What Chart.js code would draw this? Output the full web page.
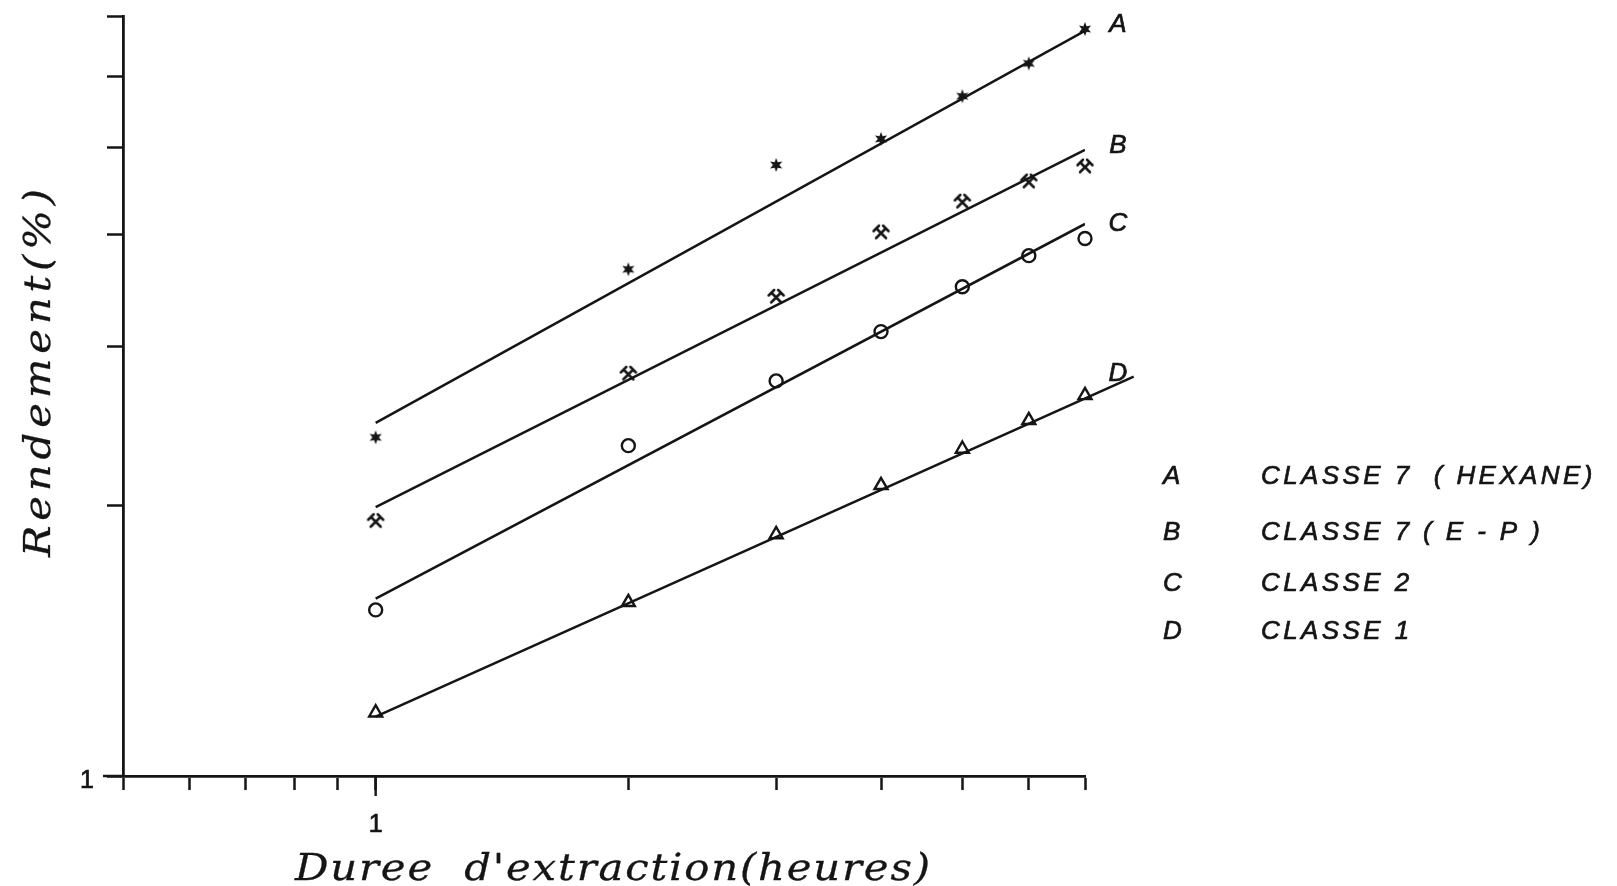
<!DOCTYPE html>
<html>
<head>
<meta charset="utf-8">
<script src="https://cdn.jsdelivr.net/npm/chart.js@4.4.1/dist/chart.umd.min.js"></script>
<style>
html,body{margin:0;padding:0;background:#fff;overflow:hidden}
canvas{display:block}
</style>
</head>
<body>
<canvas id="c" width="1617" height="886"></canvas>
<script>
// ---------- data ----------
const hours = [1, 2, 3, 4, 5, 6, 7];
const rendementA = [2.38, 3.66, 4.78, 5.11, 5.70, 6.20, 6.77];   // CLASSE 7 (HEXANE)
const rendementB = [1.92, 2.80, 3.41, 4.02, 4.35, 4.58, 4.76];   // CLASSE 7 (E-P)
const rendementC = [1.53, 2.33, 2.75, 3.12, 3.50, 3.79, 3.96];   // CLASSE 2
const rendementD = [1.176, 1.56, 1.856, 2.105, 2.31, 2.486, 2.65]; // CLASSE 1

// fitted straight lines (log-log), end points
const fitHoursA = [1, 7], fitA = [2.47, 6.74];
const fitHoursB = [1, 7], fitB = [1.99, 4.97];
const fitHoursC = [1, 7], fitC = [1.575, 4.11];
const fitHoursD = [1, 8], fitD = [1.164, 2.78];

const xTickValues = [0.5, 0.6, 0.7, 0.8, 0.9, 1, 2, 3, 4, 5, 6, 7];
const yTickValues = [1, 2, 3, 4, 5, 6, 7];
const xTickLabel = '1';
const yTickLabel = '1';
const lineLabels = ['A', 'B', 'C', 'D'];
const legendKeys = ['A', 'B', 'C', 'D'];
const legendNames = ['CLASSE 7  ( HEXANE)', 'CLASSE 7 ( E - P )', 'CLASSE 2', 'CLASSE 1'];
const xTitle = "Duree  d'extraction(heures)";
const yTitle = "Rendement(%)";

// ---------- drawing ----------
const INK = '#151515';
const pts = (xs, ys) => xs.map((x, i) => ({x: x, y: ys[i]}));

function marker(kind) {
  const s = 22, c = document.createElement('canvas');
  c.width = s; c.height = s;
  const g = c.getContext('2d');
  g.translate(s / 2, s / 2);
  g.strokeStyle = INK; g.fillStyle = INK; g.lineWidth = 2.5; g.lineCap = 'round';
  if (kind === 'star') {
    g.beginPath();
    for (let i = 0; i < 12; i++) {
      const r = i % 2 ? 3.2 : 7;
      const a = -Math.PI / 2 + i * Math.PI / 6;
      g.lineTo(r * Math.cos(a), r * Math.sin(a));
    }
    g.closePath(); g.fill();
  } else if (kind === 'hammer') {
    g.beginPath();
    g.moveTo(-4, -3.5); g.lineTo(5, 5.5);
    g.moveTo(4, -3.5); g.lineTo(-5, 5.5);
    g.stroke();
    g.beginPath();
    g.moveTo(-7.5, -1.5); g.lineTo(-2, -7);
    g.moveTo(7.5, -1.5); g.lineTo(2, -7);
    g.stroke();
  }
  return c;
}

function drawSpaced(ctx, text, x0, y0, spacing, bold) {
  let x = x0;
  for (const ch of text) {
    ctx.fillText(ch, x, y0);
    if (bold) ctx.strokeText(ch, x, y0);
    x += ctx.measureText(ch).width + spacing;
  }
}
// draws text char by char, glyphs stretched horizontally by sx, filling `width`
function drawFit(ctx, text, x0, y0, width, sx) {
  const chars = [...text];
  const w = chars.map(ch => ctx.measureText(ch).width * sx);
  const nat = w.reduce((s, v) => s + v, 0);
  const gap = (width - nat) / (chars.length - 1);
  let x = x0;
  chars.forEach((ch, i) => {
    ctx.save();
    ctx.translate(x, y0);
    ctx.scale(sx, 1);
    ctx.fillText(ch, 0, 0);
    ctx.strokeText(ch, 0, 0);
    ctx.restore();
    x += w[i] + gap;
  });
}

const textPlugin = {
  id: 'texts',
  afterDraw(chart) {
    const {ctx, chartArea: a, scales: {x, y}} = chart;
    ctx.save();
    ctx.fillStyle = INK; ctx.strokeStyle = INK;
    // longer ticks at value 1
    ctx.lineWidth = 2.4;
    ctx.beginPath();
    const x1 = x.getPixelForValue(1), y1 = y.getPixelForValue(1);
    ctx.moveTo(x1, a.bottom); ctx.lineTo(x1, a.bottom + 20);
    ctx.moveTo(a.left, y1); ctx.lineTo(a.left - 20, y1);
    ctx.stroke();
    // tick labels
    ctx.font = '25px "Liberation Sans"';
    ctx.textAlign = 'center'; ctx.textBaseline = 'alphabetic';
    ctx.lineWidth = 0.7;
    ctx.fillText(xTickLabel, x1, a.bottom + 56);
    ctx.strokeText(xTickLabel, x1, a.bottom + 56);
    ctx.fillText(yTickLabel, a.left - 36, y1 + 12);
    ctx.strokeText(yTickLabel, a.left - 36, y1 + 12);
    // line labels
    ctx.font = 'italic 26px "Liberation Sans"';
    const dy = [-8, -6, -2, -5];
    for (let i = 0; i < 4; i++) {
      const p = chart.getDatasetMeta(i).data[1];
      ctx.fillText(lineLabels[i], a.right + 33, p.y + dy[i] + 9);
      ctx.strokeText(lineLabels[i], a.right + 33, p.y + dy[i] + 9);
    }
    // legend
    ctx.textAlign = 'left';
    const rows = [484, 540, 591, 639];
    for (let i = 0; i < 4; i++) {
      ctx.fillText(legendKeys[i], 1163, rows[i]);
      ctx.strokeText(legendKeys[i], 1163, rows[i]);
      drawSpaced(ctx, legendNames[i], 1261, rows[i], 3.4, true);
    }
    // axis titles
    ctx.font = 'italic 38px "DejaVu Serif"';
    ctx.lineWidth = 0.3;
    drawFit(ctx, xTitle, 295, 880, 635, 1.1);
    ctx.translate(50, 557);
    ctx.rotate(-Math.PI / 2);
    drawFit(ctx, yTitle, 0, 0, 368, 1.1);
    ctx.restore();
  }
};

const lineDs = (xs, ys, extra) => Object.assign({
  data: pts(xs, ys), showLine: true, borderColor: INK, borderWidth: 2.5,
  pointRadius: 0, order: 2
}, extra || {});
const markDs = (ys, style, extra) => Object.assign({
  data: pts(hours, ys), showLine: false, pointStyle: style, pointRadius: 7,
  borderColor: INK, backgroundColor: 'rgba(0,0,0,0)', pointBorderWidth: 2.4,
  order: 1, clip: false
}, extra || {});

new Chart(document.getElementById('c'), {
  type: 'scatter',
  data: {
    datasets: [
      lineDs(fitHoursA, fitA),
      lineDs(fitHoursB, fitB),
      lineDs(fitHoursC, fitC),
      lineDs(fitHoursD, fitD, {clip: false}),
      markDs(rendementA, marker('star')),
      markDs(rendementB, marker('hammer')),
      markDs(rendementC, 'circle', {pointRadius: 6.5}),
      markDs(rendementD, 'triangle', {pointRadius: 7.5})
    ]
  },
  options: {
    responsive: false, animation: false, devicePixelRatio: 1,
    layout: {padding: {left: 0, right: 1617 - 1085, top: 16, bottom: 0}},
    plugins: {legend: {display: false}, tooltip: {enabled: false}},
    scales: {
      x: {
        type: 'logarithmic', min: 0.5, max: 7,
        afterBuildTicks: s => { s.ticks = xTickValues.map(v => ({value: v})); },
        afterFit: s => { s.height = 110; },
        ticks: {display: false},
        grid: {display: true, drawOnChartArea: false, drawTicks: true, tickLength: 14, tickWidth: 2.5, tickColor: INK},
        border: {display: true, color: INK, width: 2.8}
      },
      y: {
        type: 'logarithmic', min: 1, max: 7,
        afterBuildTicks: s => { s.ticks = yTickValues.map(v => ({value: v})); },
        afterFit: s => { s.width = 123; },
        ticks: {display: false},
        grid: {display: true, drawOnChartArea: false, drawTicks: true, tickLength: 16, tickWidth: 2.5, tickColor: INK},
        border: {display: true, color: INK, width: 2.8}
      }
    }
  },
  plugins: [textPlugin]
});
</script>
</body>
</html>
